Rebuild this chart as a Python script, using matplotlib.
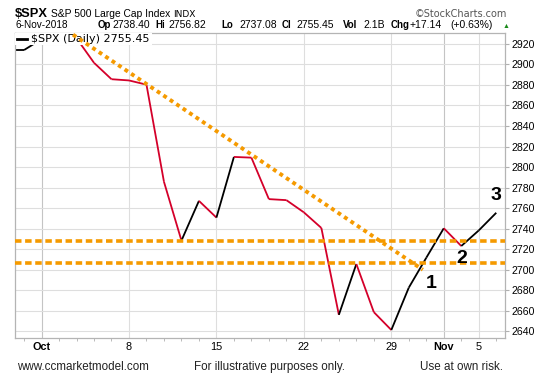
import matplotlib.pyplot as plt
import numpy as np
from matplotlib.collections import LineCollection
from matplotlib.patches import Rectangle

plt.rcParams['font.family'] = ['Liberation Sans', 'DejaVu Sans']

# daily closes, Sep 27 - Nov 6 2018
dates = ['Sep 27', 'Sep 28', 'Oct 1', 'Oct 2', 'Oct 3', 'Oct 4', 'Oct 5',
         'Oct 8', 'Oct 9', 'Oct 10', 'Oct 11', 'Oct 12',
         'Oct 15', 'Oct 16', 'Oct 17', 'Oct 18', 'Oct 19',
         'Oct 22', 'Oct 23', 'Oct 24', 'Oct 25', 'Oct 26',
         'Oct 29', 'Oct 30', 'Oct 31', 'Nov 1', 'Nov 2',
         'Nov 5', 'Nov 6']
closes = [2914.0, 2914.0, 2924.6, 2923.4, 2925.5, 2901.6, 2885.6,
          2884.4, 2880.3, 2785.7, 2728.4, 2767.1,
          2750.8, 2809.9, 2809.2, 2768.8, 2767.8,
          2755.9, 2740.7, 2656.1, 2705.6, 2658.7,
          2641.3, 2682.6, 2711.7, 2740.4, 2723.1,
          2738.3, 2755.5]
tick_dates = ['Oct 1', 'Oct 8', 'Oct 15', 'Oct 22', 'Oct 29', 'Nov 1', 'Nov 5']
tick_labels = ['Oct', '8', '15', '22', '29', 'Nov', '5']
support_levels = [2728, 2707]
trend_days = [1.8, 21.8]
trend_values = [2929, 2700]

W, H = 546, 381
L, R, T, B = 15.3, 505, 32.5, 337.7
fig = plt.figure(figsize=(W / 100, H / 100), dpi=100)
ax = fig.add_axes([L / W, 1 - B / H, (R - L) / W, (B - T) / H])


def ax_frac(px, py):
    return (px - L) / (R - L), 1 - (py - T) / (B - T)


x = np.arange(len(closes)) - dates.index('Oct 1')
y = np.array(closes)

# up days black, down days red
segs = np.stack([np.column_stack([x[:-1], y[:-1]]), np.column_stack([x[1:], y[1:]])], axis=1)
colors = ['#d4002a' if d < 0 else 'black' for d in np.diff(y)]
ax.add_collection(LineCollection(segs, colors=colors, linewidths=1.3, zorder=2))

orange = '#f59a00'
for lvl in support_levels:
    ax.axhline(lvl, color=orange, lw=2.6, dashes=(1.8, 1.0), zorder=4)
ax.plot(trend_days, trend_values, color=orange, lw=2.8, dashes=(1, 1), zorder=4)

ax.set_xlim(-1.5, 26.5)
ax.set_ylim(2633.8, 2931.1)

ax.set_yticks(np.arange(2640, 2921, 20))
ax.yaxis.tick_right()
ax.tick_params(axis='y', length=3, color='#b0b0b0', labelsize=7.6, pad=1.5)

xt = [x[dates.index(d)] for d in tick_dates]
ax.set_xticks(xt)
ax.set_xticklabels(tick_labels)
for lab in ax.get_xticklabels():
    if lab.get_text() in ('Oct', 'Nov'):
        lab.set_fontweight('bold')
ax.set_xticks(x[x > -1.5], minor=True)
ax.tick_params(axis='x', which='major', length=0, labelsize=7.8, pad=3)
ax.tick_params(axis='x', which='minor', length=2, color='#b0b0b0')

ax.grid(axis='y', color='#dedede', lw=0.8, zorder=0)
for d, lab in zip(xt, tick_labels):
    c = '#c4c4c4' if lab in ('Oct', 'Nov') else '#dedede'
    ax.axvline(d, color=c, lw=0.8, zorder=0)
for s in ax.spines.values():
    s.set_color('#b4b4b4')
    s.set_linewidth(0.9)

# legend box
x0, y0 = ax_frac(L, 45)
x1, _ = ax_frac(152, 45)
ax.add_patch(Rectangle((x0, y0), x1 - x0, 1 - y0, transform=ax.transAxes,
                       facecolor='white', edgecolor='none', zorder=3))
hx0, hy = ax_frac(17, 38.7)
hx1, _ = ax_frac(27, 38.7)
ax.plot([hx0, hx1], [hy, hy], color='black', lw=2, transform=ax.transAxes, zorder=3.5)
tx, ty = ax_frac(30.7, 42)
ax.text(tx, ty, '$SPX (Daily) 2755.45', transform=ax.transAxes, family='DejaVu Sans',
        fontsize=8, va='baseline', zorder=3.5)

for lab, px, val in [('1', 22.3, 2687), ('2', 24.0, 2711), ('3', 26.0, 2772)]:
    ax.text(px, val, lab, fontsize=14, fontweight='bold', ha='center', va='center', zorder=5)


def ptext(px, py, s, **kw):
    fig.text(px / W, 1 - py / H, s, va='baseline', **kw)


ptext(15, 17.3, '$SPX', fontsize=9.3, fontweight='bold')
ptext(51, 17.3, 'S&P 500 Large Cap Index', fontsize=7.4)
ptext(173, 17.3, 'INDX', fontsize=6.5, family='DejaVu Sans')
ptext(507, 16.7, '\u00a9StockCharts.com', fontsize=7, family='DejaVu Sans',
      color='#555555', ha='right')

ptext(15, 27.7, '6-Nov-2018', fontsize=7.2)
parts = [(97.3, 'Op', True), (112.7, '2738.40', False), (155, 'Hi', True), (168.7, '2756.82', False),
         (221.7, 'Lo', True), (239.3, '2737.08', False), (281.7, 'Cl', True), (296, '2755.45', False),
         (342.7, 'Vol', True), (363, '2.1B', False), (390.5, 'Chg', True),
         (410, '+17.14', False), (450.7, '(+0.63%)', False)]
for px, s, b in parts:
    ptext(px, 27.7, s, fontsize=7.0 if b else 7.5, fontweight='bold' if b else 'normal')
ptext(505.7, 27.7, '\u25b2', fontsize=5, color='#1a8a1a', ha='center')

ptext(17.5, 370, 'www.ccmarketmodel.com', fontsize=8.4, color='#222222')
ptext(194, 370, 'For illustrative purposes only.', fontsize=8.4, color='#222222')
ptext(420, 370, 'Use at own risk.', fontsize=8.4, color='#222222')

fig.savefig('out.png', dpi=100)
